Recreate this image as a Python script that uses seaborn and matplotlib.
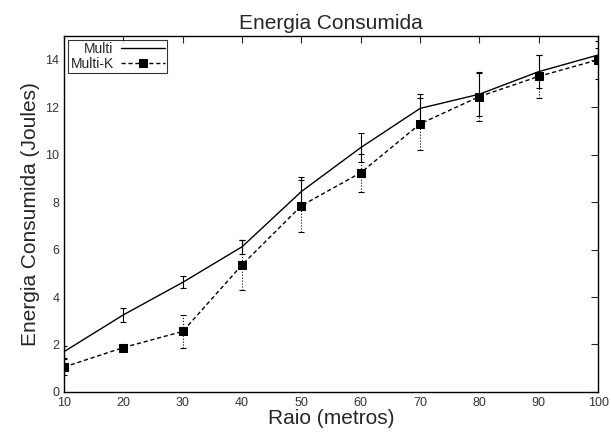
import pandas as pd
import matplotlib
matplotlib.use("Agg")
import matplotlib.pyplot as plt
import seaborn as sns

# Data
raio = [10, 20, 30, 40, 50, 60, 70, 80, 90, 100]
multi = [1.7, 3.25, 4.62, 6.12, 8.45, 10.3, 11.95, 12.55, 13.5, 14.2]
multi_err = [0.25, 0.3, 0.25, 0.3, 0.6, 0.6, 0.6, 0.9, 0.7, 0.3]
multi_k = [1.05, 1.87, 2.55, 5.36, 7.85, 9.24, 11.3, 12.45, 13.3, 14.0]
multi_k_err = [0.35, 0.15, 0.7, 1.05, 1.1, 0.8, 1.1, 1.05, 0.9, 0.8]

df_multi = pd.DataFrame({"raio": raio, "energia": multi})
df_multi_k = pd.DataFrame({"raio": raio, "energia": multi_k})

sns.set_style("white")
plt.rcParams["font.family"] = ["Liberation Sans", "DejaVu Sans"]
plt.rcParams["xtick.direction"] = "in"
plt.rcParams["ytick.direction"] = "in"

fig, ax = plt.subplots(figsize=(6.11, 4.34), dpi=100)

# error bars
ax.errorbar(raio, multi, yerr=multi_err, fmt="none", ecolor="black",
            elinewidth=0.8, capsize=2.5, capthick=0.8)
eb2 = ax.errorbar(raio, multi_k, yerr=multi_k_err, fmt="none", ecolor="black",
                  elinewidth=0.8, capsize=2.5, capthick=0.8)
eb2[2][0].set_linestyle(":")

sns.lineplot(data=df_multi, x="raio", y="energia", color="black",
             linewidth=1.0, label="Multi", ax=ax)
sns.lineplot(data=df_multi_k, x="raio", y="energia", color="black",
             linewidth=1.0, linestyle=(0, (3, 2)), marker="s", markersize=6,
             markeredgecolor="black", label="Multi-K", ax=ax)

ax.set_xlim(10, 100)
ax.set_ylim(0, 15)
ax.set_xticks(raio)
ax.set_yticks(range(0, 15, 2))
ax.tick_params(axis="both", labelsize=9, labelcolor="#333333", top=True,
               right=True, length=5, width=0.8)
for s in ax.spines.values():
    s.set_color("black")
    s.set_linewidth(1.0)

ax.set_title("Energia Consumida", fontsize=15, pad=5)
ax.set_xlabel("Raio (metros)", fontsize=15, labelpad=0)
ax.set_ylabel("Energia Consumida (Joules)", fontsize=15, labelpad=4)

leg = ax.legend(loc="upper left", fontsize=10, frameon=True, fancybox=False,
                edgecolor="black", borderpad=0.15, handlelength=3.2,
                markerfirst=False, labelspacing=0.05, borderaxespad=0.3,
                handletextpad=0.5)
leg.get_frame().set_linewidth(0.8)

fig.subplots_adjust(left=0.105, right=0.979, top=0.917, bottom=0.097)
fig.savefig("out.png", dpi=100)
